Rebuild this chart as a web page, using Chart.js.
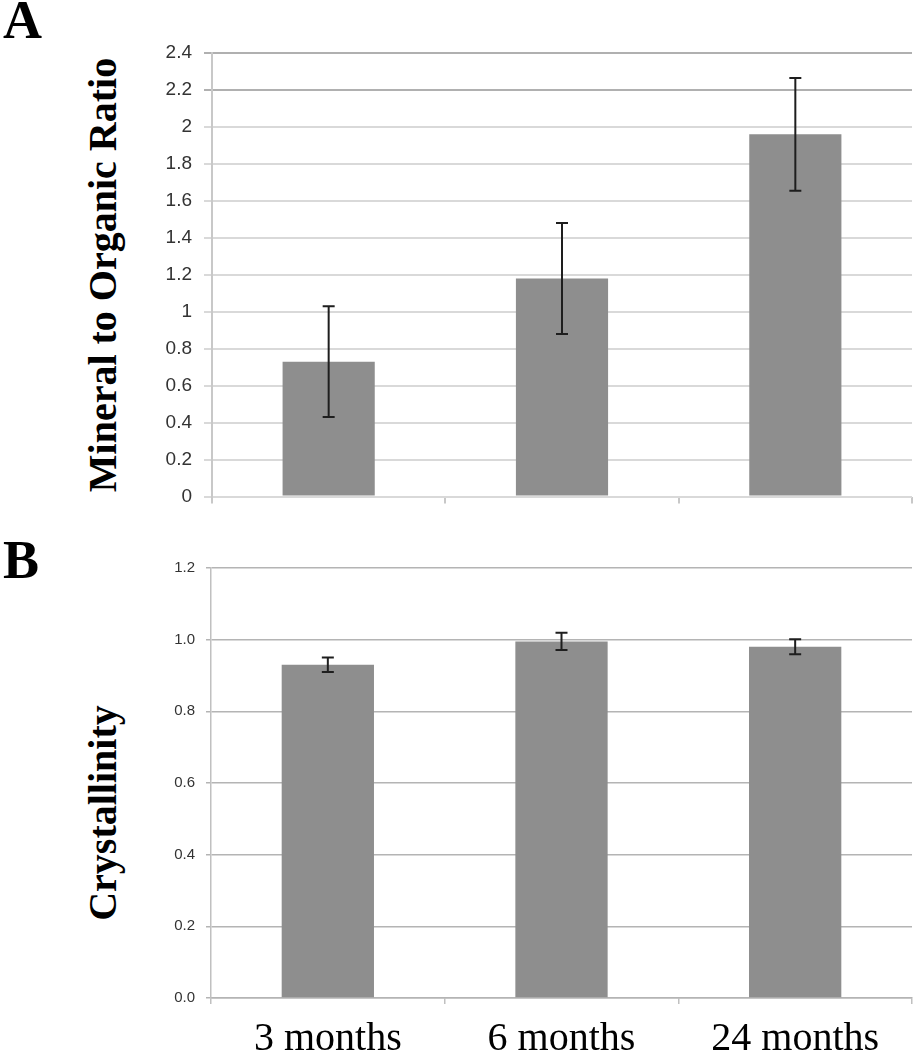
<!DOCTYPE html>
<html>
<head>
<meta charset="utf-8">
<script src="https://cdn.jsdelivr.net/npm/chart.js@4.4.1/dist/chart.umd.min.js"></script>
<style>
  body { margin: 0; background: #fff; width: 917px; height: 1050px; position: relative; overflow: hidden; }
  canvas { position: absolute; left: 0; }
  .panel { position: absolute; left: 3px; font: bold 54px "Liberation Serif", serif; line-height: 54px; color: #000; }
  .ytitle { position: absolute; width: 500px; height: 40px; left: -147px; font: bold 40px "Liberation Serif", serif;
            line-height: 40px; text-align: center; white-space: nowrap; color: #000; transform: rotate(-90deg); }
</style>
</head>
<body>
<div class="panel" style="top:-7px">A</div>
<div class="panel" style="top:533px">B</div>
<div class="ytitle" style="top:255px">Mineral to Organic Ratio</div>
<div class="ytitle" style="top:793px">Crystallinity</div>
<canvas id="chartA" width="917" height="520" style="top:0"></canvas>
<canvas id="chartB" width="917" height="520" style="top:530px"></canvas>
<script>
// data
var categories = ['3 months', '6 months', '24 months'];
var mineralRatio = [0.73, 1.18, 1.96];
var mineralErr = [0.30, 0.30, 0.305];
var crystallinity = [0.93, 0.995, 0.98];
var crystallinityErr = [0.02, 0.024, 0.021];
var ratioTicks = ['0', '0.2', '0.4', '0.6', '0.8', '1', '1.2', '1.4', '1.6', '1.8', '2', '2.2', '2.4'];
var crystTicks = ['0.0', '0.2', '0.4', '0.6', '0.8', '1.0', '1.2'];

var barColor = '#8e8e8e';

// draws the error bars on top of each bar
var errorBars = {
    id: 'errorBars',
    afterDatasetsDraw: function(chart, args, opts) {
        var ctx = chart.ctx;
        var yScale = chart.scales.y;
        var values = chart.data.datasets[0].data;
        var errs = opts.errors;
        ctx.save();
        ctx.strokeStyle = '#1e1e1e';
        ctx.lineWidth = 2;
        chart.getDatasetMeta(0).data.forEach(function(bar, i) {
            var top = yScale.getPixelForValue(values[i] + errs[i]);
            var bottom = yScale.getPixelForValue(values[i] - errs[i]);
            ctx.beginPath();
            ctx.moveTo(bar.x, top);
            ctx.lineTo(bar.x, bottom);
            ctx.moveTo(bar.x - 6, top);
            ctx.lineTo(bar.x + 6, top);
            ctx.moveTo(bar.x - 6, bottom);
            ctx.lineTo(bar.x + 6, bottom);
            ctx.stroke();
        });
        ctx.restore();
    }
};

function tickLabel(list, step) {
    return function(value) {
        return list[Math.round(value / step)];
    };
}

// Panel A
new Chart(document.getElementById('chartA').getContext('2d'), {
    type: 'bar',
    data: {
        labels: categories,
        datasets: [{
            data: mineralRatio,
            backgroundColor: barColor,
            barPercentage: 1,
            categoryPercentage: 0.395
        }]
    },
    options: {
        responsive: false,
        animation: false,
        layout: { padding: { left: 0, right: 5, top: 53, bottom: 0 } },
        plugins: {
            legend: { display: false },
            tooltip: { enabled: false },
            errorBars: { errors: mineralErr }
        },
        scales: {
            x: {
                afterFit: function(scale) { scale.height = 22; },
                grid: { offset: true, drawOnChartArea: false, tickLength: 7, color: '#c8c8c8', lineWidth: 2 },
                border: { display: false },
                ticks: { display: false }
            },
            y: {
                min: 0,
                max: 2.4,
                afterFit: function(scale) { scale.width = 212; },
                grid: {
                    color: function(c) { return c.tick && c.tick.value >= 2.19 ? '#b0b0b0' : '#d9d9d9'; },
                    lineWidth: 2,
                    tickLength: 8
                },
                border: { color: '#c8c8c8', width: 2 },
                ticks: {
                    stepSize: 0.2,
                    padding: 12,
                    color: '#333',
                    font: { family: 'Liberation Sans', size: 19 },
                    callback: tickLabel(ratioTicks, 0.2)
                }
            }
        }
    },
    plugins: [errorBars]
});

// Panel B
new Chart(document.getElementById('chartB').getContext('2d'), {
    type: 'bar',
    data: {
        labels: categories,
        datasets: [{
            data: crystallinity,
            backgroundColor: barColor,
            barPercentage: 1,
            categoryPercentage: 0.395
        }]
    },
    options: {
        responsive: false,
        animation: false,
        layout: { padding: { left: 0, right: 5, top: 38, bottom: 0 } },
        plugins: {
            legend: { display: false },
            tooltip: { enabled: false },
            errorBars: { errors: crystallinityErr }
        },
        scales: {
            x: {
                afterFit: function(scale) { scale.height = 52; },
                grid: { offset: true, drawOnChartArea: false, tickLength: 6, color: '#c0c0c0', lineWidth: 1.5 },
                border: { color: '#b4b4b4', width: 1.5 },
                ticks: {
                    padding: 11,
                    color: '#000',
                    font: { family: 'Liberation Serif', size: 40 }
                }
            },
            y: {
                min: 0,
                max: 1.2,
                afterFit: function(scale) { scale.width = 211; },
                grid: { color: '#b4b4b4', lineWidth: 1.5, tickLength: 5 },
                border: { color: '#c0c0c0', width: 1.5 },
                ticks: {
                    stepSize: 0.2,
                    padding: 11,
                    color: '#333',
                    font: { family: 'Liberation Sans', size: 15 },
                    callback: tickLabel(crystTicks, 0.2)
                }
            }
        }
    },
    plugins: [errorBars]
});
</script>
</body>
</html>
